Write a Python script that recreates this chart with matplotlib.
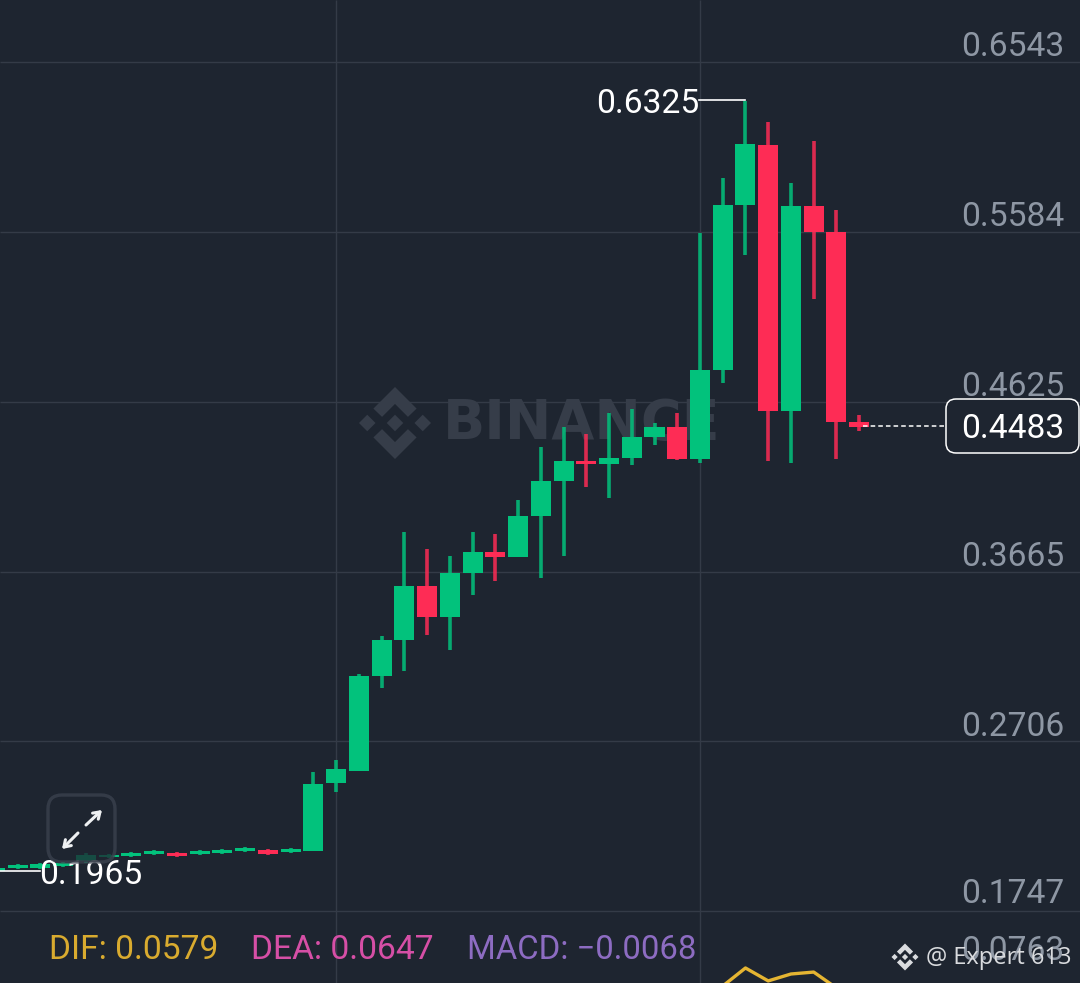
import matplotlib.pyplot as plt
from matplotlib.patches import FancyBboxPatch, Polygon
from matplotlib.transforms import Affine2D

# Candle data, oldest first
opens = [0.1974, 0.1991, 0.1991, 0.2002, 0.2030, 0.2053, 0.2058, 0.2070, 0.2075, 0.2070,
         0.2075, 0.2087, 0.2092, 0.2081, 0.2087, 0.2471, 0.2539, 0.3075, 0.3279, 0.3583,
         0.3408, 0.3657, 0.3775, 0.3747, 0.3979, 0.4177, 0.4290, 0.4273, 0.4306, 0.4425,
         0.4482, 0.4301, 0.4803, 0.5735, 0.6077, 0.4572, 0.5730, 0.5583, 0.4510]
closes = [0.1991, 0.2008, 0.2013, 0.2019, 0.2064, 0.2064, 0.2075, 0.2087, 0.2058, 0.2087,
          0.2092, 0.2101, 0.2070, 0.2098, 0.2465, 0.2550, 0.3075, 0.3279, 0.3583, 0.3408,
          0.3657, 0.3775, 0.3747, 0.3979, 0.4177, 0.4290, 0.4273, 0.4306, 0.4425, 0.4482,
          0.4301, 0.4803, 0.5735, 0.6080, 0.4572, 0.5730, 0.5583, 0.4510, 0.4483]
highs = [0.1991, 0.2013, 0.2019, 0.2025, 0.2075, 0.2070, 0.2081, 0.2092, 0.2081, 0.2092,
         0.2098, 0.2107, 0.2098, 0.2104, 0.2533, 0.2601, 0.3086, 0.3301, 0.3888, 0.3792,
         0.3753, 0.3888, 0.3877, 0.4069, 0.4369, 0.4482, 0.4442, 0.4561, 0.4583, 0.4504,
         0.4561, 0.5577, 0.5888, 0.6325, 0.6204, 0.5860, 0.6097, 0.5707, 0.4550]
lows = [0.1965, 0.1985, 0.1985, 0.1996, 0.2019, 0.2047, 0.2053, 0.2064, 0.2053, 0.2064,
        0.2070, 0.2081, 0.2064, 0.2075, 0.2087, 0.2420, 0.2539, 0.3007, 0.3103, 0.3307,
        0.3222, 0.3533, 0.3612, 0.3747, 0.3629, 0.3753, 0.4143, 0.4081, 0.4267, 0.4380,
        0.4295, 0.4278, 0.4730, 0.5453, 0.4290, 0.4278, 0.5205, 0.4301, 0.4459]

# DIF line peeking in at the bottom edge
dif_x = [32, 33, 34, 35, 36, 37]
dif_y = [0.1324, 0.1426, 0.1353, 0.1392, 0.1403, 0.1313]

price_ticks = [0.6543, 0.5584, 0.4625, 0.3665, 0.2706, 0.1747]
time_grid = [15, 31]

BG = '#1e2530'
GRID = '#343b47'
GREEN = '#02c27c'
RED = '#fe2c55'
GRAY = '#8e97a4'
FONT = 'Roboto'

fig = plt.figure(figsize=(10.8, 9.83), dpi=100, facecolor=BG)
ax = fig.add_axes([0, 0, 1, 1], facecolor=BG)
ax.set_xlim(0.22, 47.71)
ax.set_ylim(0.13412, 0.68932)
ax.axis('off')

# screen pixel coords, y going down, for everything that is not data
px = Affine2D().scale(1, -1).translate(0, 983)

# grid
ax.hlines(price_ticks, 0.22, 47.71, color=GRID, lw=1.0, zorder=1)
ax.vlines(time_grid, 0.13412, 0.68932, color=GRID, lw=1.0, zorder=1)


def logo(cx, cy, s, color, zorder):
    # Binance mark: centre and side diamonds, chevrons top and bottom
    def diamond(x, y, r):
        return [(x - r, y), (x, y - r), (x + r, y), (x, y + r)]
    shapes = [diamond(0, 0, 0.23), diamond(-0.77, 0, 0.23), diamond(0.77, 0, 0.23),
              [(0, -1), (0.6, -0.4), (0.36, -0.17), (0, -0.53), (-0.36, -0.17), (-0.6, -0.4)],
              [(0, 1), (0.6, 0.4), (0.36, 0.17), (0, 0.53), (-0.36, 0.17), (-0.6, 0.4)]]
    for pts in shapes:
        ax.add_patch(Polygon([(cx + x * s, cy + y * s) for x, y in pts], closed=True,
                             fc=color, ec='none', transform=px, zorder=zorder))


# watermark
logo(395, 423, 36, '#363d49', 2)
ax.text(443, 424, 'BINANCE', transform=px, family='DejaVu Sans', weight='bold', fontsize=40,
        color='#363d49', va='center', ha='left', zorder=2)

# candles
for i in range(len(opens)):
    c = GREEN if closes[i] >= opens[i] else RED
    ax.vlines(i, lows[i], highs[i], color=c, lw=2.6, alpha=0.85, zorder=3)
    ax.bar(i, abs(closes[i] - opens[i]), bottom=min(opens[i], closes[i]), width=0.88,
           color=c, zorder=4)

ax.plot(dif_x, dif_y, color='#e5b532', lw=2.4, zorder=4)

# price labels
for p, y in zip(price_ticks, [47, 217, 387, 557, 727, 894]):
    ax.text(1064, y, f'{p:.4f}', transform=px, family=FONT, fontsize=24.2, color=GRAY,
            ha='right', va='center', zorder=5)
ax.text(1064, 951, '0.0763', transform=px, family=FONT, fontsize=24.2, color=GRAY,
        ha='right', va='center', zorder=5)

# high / low callouts
ax.plot([699, 745], [100, 100], color='white', lw=1.2, transform=px, zorder=5)
ax.text(699, 104, '0.6325', transform=px, family=FONT, fontsize=24.2, color='white',
        ha='right', va='center', zorder=6)
ax.plot([0, 40], [871, 871], color='white', lw=1.2, transform=px, zorder=5)
ax.text(39, 875, '0.1965', transform=px, family=FONT, fontsize=24.2, color='white',
        ha='left', va='center', zorder=6)

# last price tag
ax.plot([863, 946], [426, 426], color='white', lw=1.1, ls=(0, (3, 2)), transform=px, zorder=5)
ax.add_patch(FancyBboxPatch((954, 407), 117, 38, boxstyle='round,pad=8,rounding_size=10',
                            fc=BG, ec='white', lw=1.1, transform=px, zorder=5))
ax.text(1064, 429, '0.4483', transform=px, family=FONT, fontsize=24.2, color='white',
        ha='right', va='center', zorder=6)

# expand button
ax.add_patch(FancyBboxPatch((60, 807), 43, 43, boxstyle='round,pad=12,rounding_size=14',
                            fc=BG, ec='#3c4350', lw=2.4, alpha=0.75, transform=px, zorder=7))
for a, b in [((86, 825), (102, 810)), ((78, 833), (62, 849))]:
    ax.annotate('', xy=b, xytext=a, xycoords=px, textcoords=px, zorder=8,
                arrowprops=dict(arrowstyle='->,head_length=0.45,head_width=0.3', color='#eef0f2',
                                lw=2.2, shrinkA=0, shrinkB=0))

# indicator legend
ax.text(49, 950, 'DIF: 0.0579', transform=px, family=FONT, fontsize=24.2, color='#d9ab2f',
        ha='left', va='center', zorder=6)
ax.text(251, 950, 'DEA: 0.0647', transform=px, family=FONT, fontsize=24.2, color='#d64fa6',
        ha='left', va='center', zorder=6)
ax.text(467, 950, 'MACD: \u22120.0068', transform=px, family=FONT, fontsize=23.7, color='#8d6cc2',
        ha='left', va='center', zorder=6)

# share watermark
logo(905, 957, 13.5, '#dadcdf', 7)
ax.text(926, 958, '@ Expert 613', transform=px, family='Open Sans', fontsize=17, color='#d9dbde',
        ha='left', va='center', zorder=7)

fig.savefig('out.png', dpi=100, facecolor=BG)
